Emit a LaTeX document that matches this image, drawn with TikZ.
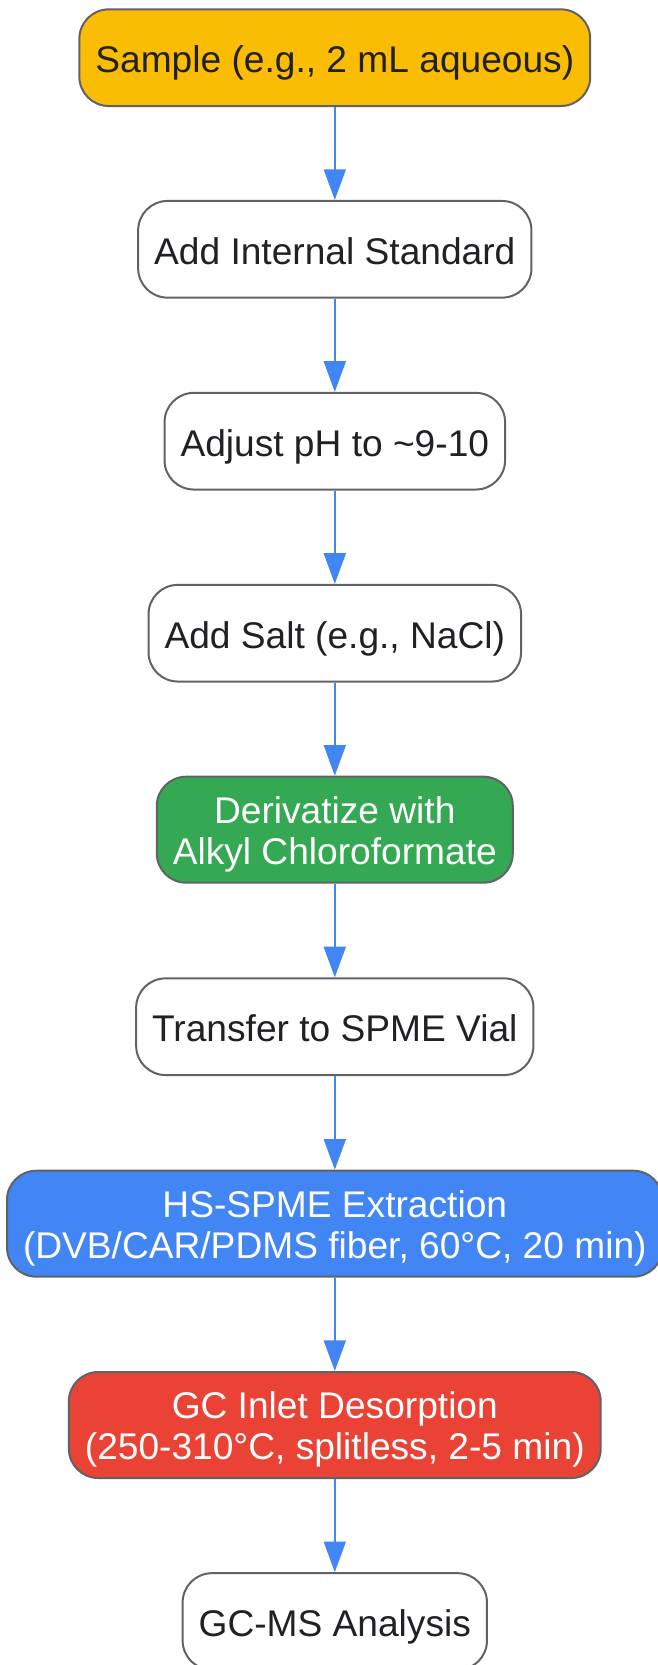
\documentclass[tikz,border=0pt]{standalone}
\usepackage{fontspec}
\setmainfont{Liberation Sans}
\usetikzlibrary{positioning,arrows.meta}
\definecolor{boxline}{HTML}{5F6368}
\definecolor{ink}{HTML}{202124}
\definecolor{flowblue}{HTML}{4285F4}
\definecolor{sampleyellow}{HTML}{FBBC04}
\definecolor{derivgreen}{HTML}{34A853}
\definecolor{inletred}{HTML}{EA4335}
\tikzset{every picture/.style={line width=0.75pt}}

\begin{document}
\begin{tikzpicture}[x=0.75pt,y=0.75pt,yscale=-1,xscale=1,
  box/.style={draw=boxline,line width=1.5pt,rounded corners=22pt,fill=white,text=ink,align=center,inner xsep=12pt,inner ysep=3pt,minimum height=72.5pt,text height=26pt,text depth=3.8pt,font=\fontsize{27.85}{30.75}\selectfont},
  twobox/.style={box,minimum height=79.5pt,text height=55pt,text depth=3pt,text=white},
  flow/.style={draw=flowblue,line width=1.5pt,-{Triangle[length=23pt,width=16.5pt]}}]
\useasboundingbox (0,0) rectangle (657,1665);

% Steps
\node [box,fill=sampleyellow] (sample) at (334.8,57.7) {Sample (e.g., 2 mL aqueous)};
\node [box] (istd) at (334.8,249.3) {Add Internal Standard};
\node [box] (ph) at (334.8,441.2) {Adjust pH to \textasciitilde9-10};
\node [box] (salt) at (334.8,633.2) {Add Salt (e.g., NaCl)};
\node [twobox,fill=derivgreen] (deriv) at (334.8,829.7) {Derivatize with\\Alkyl Chloroformate};
\node [box] (vial) at (334.8,1026.7) {Transfer to SPME Vial};
\node [twobox,fill=flowblue] (spme) at (334.8,1223.7) {HS-SPME Extraction\\(DVB/CAR/PDMS fiber, 60°C, 20 min)};
\node [twobox,fill=inletred] (inlet) at (334.8,1425) {GC Inlet Desorption\\(250-310°C, splitless, 2-5 min)};
\node [box] (gcms) at (334.8,1621.5) {GC-MS Analysis};

% Arrows
\draw [flow] (sample) -- (istd);
\draw [flow] (istd) -- (ph);
\draw [flow] (ph) -- (salt);
\draw [flow] (salt) -- (deriv);
\draw [flow] (deriv) -- (vial);
\draw [flow] (vial) -- (spme);
\draw [flow] (spme) -- (inlet);
\draw [flow] (inlet) -- (gcms);

\end{tikzpicture}
\end{document}
